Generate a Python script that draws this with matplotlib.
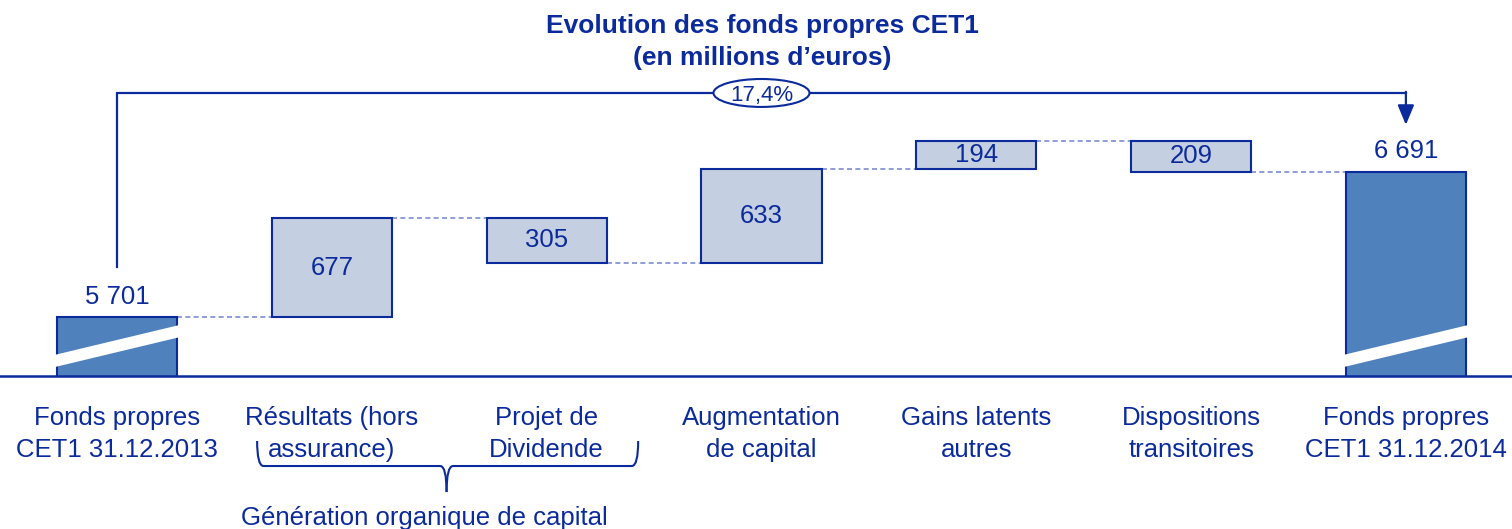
import matplotlib.pyplot as plt
from matplotlib.patches import Ellipse, Polygon, PathPatch
from matplotlib.path import Path

plt.rcParams["font.family"] = ["Liberation Sans", "DejaVu Sans"]

categories = [
    "Fonds propres\nCET1 31.12.2013",
    "Résultats (hors\nassurance)",
    "Projet de\nDividende",
    "Augmentation\nde capital",
    "Gains latents\nautres",
    "Dispositions\ntransitoires",
    "Fonds propres\nCET1 31.12.2014",
]
start_value = 5701
changes = [677, -305, 633, 194, -209]
end_value = 6691
value_labels = ["5 701", "677", "305", "633", "194", "209", "6 691"]
growth_label = "17,4%"
group_label = "Génération organique de capital"
title = "Evolution des fonds propres CET1\n(en millions d’euros)"

NAVY = "#0b2a9c"
DARK = "#4f81bd"
LIGHT = "#c4cfe1"
DASH = "#7d8cd2"
W = 0.56


def main():
    fig = plt.figure(figsize=(15.12, 5.29), dpi=100)
    ax = fig.add_axes([0, 0.2898, 1, 0.7102])
    ax.set_xlim(-0.545, 6.494)
    ax.set_ylim(5304, 7858)
    ybot = ax.get_ylim()[0]

    # running levels
    levels = [start_value]
    for c in changes:
        levels.append(levels[-1] + c)

    # end bars (broken axis)
    n = len(categories)
    for x, v in [(0, start_value), (n - 1, end_value)]:
        ax.bar(x, v, width=W, color=DARK, edgecolor=NAVY, linewidth=1.5, zorder=2)
        band = Polygon(
            [
                (x - W / 2 - 0.02, ybot + 55),
                (x + W / 2 + 0.02, ybot + 265),
                (x + W / 2 + 0.02, ybot + 348),
                (x - W / 2 - 0.02, ybot + 138),
            ],
            closed=True, facecolor="white", edgecolor="none", zorder=3,
        )
        ax.add_patch(band)
        ax.annotate(value_labels[0 if x == 0 else -1], (x, v),
                    xytext=(0, 6), textcoords="offset points",
                    ha="center", va="bottom", fontsize=18.5, color=NAVY, zorder=4)

    # floating boxes
    for i, c in enumerate(changes, start=1):
        lo = min(levels[i - 1], levels[i])
        ax.bar(i, abs(c), bottom=lo, width=W, color=LIGHT, edgecolor=NAVY,
               linewidth=1.5, zorder=2)
        ax.text(i, lo + abs(c) / 2, value_labels[i], ha="center", va="center",
                fontsize=18.5, color=NAVY, zorder=4)

    # dashed connectors
    for i, lv in enumerate(levels):
        ax.plot([i + W / 2, i + 1 - W / 2], [lv, lv], color=DASH, lw=1.2,
                ls=(0, (3, 2)), zorder=1)

    # growth arrow
    top_y = 7226
    ax.plot([0, 0, n - 1], [start_value + 342, top_y, top_y], color=NAVY, lw=1.6,
            solid_joinstyle="miter", zorder=2)
    ax.annotate("", xy=(n - 1, end_value + 318), xytext=(n - 1, top_y + 8),
                arrowprops=dict(arrowstyle="-|>,head_length=0.6,head_width=0.25",
                                color=NAVY, lw=1.6, mutation_scale=20,
                                shrinkA=0, shrinkB=0))
    ax.add_patch(Ellipse((3, top_y), 0.447, 190, facecolor="white",
                         edgecolor=NAVY, lw=1.5, zorder=3))
    ax.annotate(growth_label, (3, top_y), xytext=(0, -2), textcoords="offset points",
                ha="center", va="center", fontsize=16, color=NAVY, zorder=4)

    # axis
    for s in ["top", "left", "right"]:
        ax.spines[s].set_visible(False)
    ax.spines["bottom"].set_color(NAVY)
    ax.spines["bottom"].set_linewidth(1.8)
    ax.set_yticks([])
    ax.set_xticks(range(n))
    ax.set_xticklabels(categories, fontsize=18.5, color=NAVY, linespacing=1.4)
    ax.tick_params(axis="x", length=0, pad=22)

    # brace under the organic generation items
    xl, xr, xm = 0.652, 2.426, 1.534
    y_top, y_h, y_tip = 4860, 4690, 4513
    d = 0.03
    for xe, s in [(xl, 1), (xr, -1)]:
        verts = [(xe, y_top), (xe, y_h), (xe + s * d, y_h),
                 (xm - s * d, y_h), (xm, y_h), (xm, y_tip)]
        codes = [Path.MOVETO, Path.CURVE3, Path.CURVE3,
                 Path.LINETO, Path.CURVE3, Path.CURVE3]
        ax.add_patch(PathPatch(Path(verts, codes), facecolor="none",
                               edgecolor=NAVY, lw=1.5, clip_on=False))
    ax.text(1.43, 4340, group_label, ha="center", va="center", fontsize=18.5,
            color=NAVY)

    fig.text(0.504, 1 - 42 / 529, title, ha="center", va="center", fontsize=19,
             fontweight="bold", color=NAVY, linespacing=1.43)

    fig.savefig("out.png", dpi=100)


if __name__ == "__main__":
    main()
